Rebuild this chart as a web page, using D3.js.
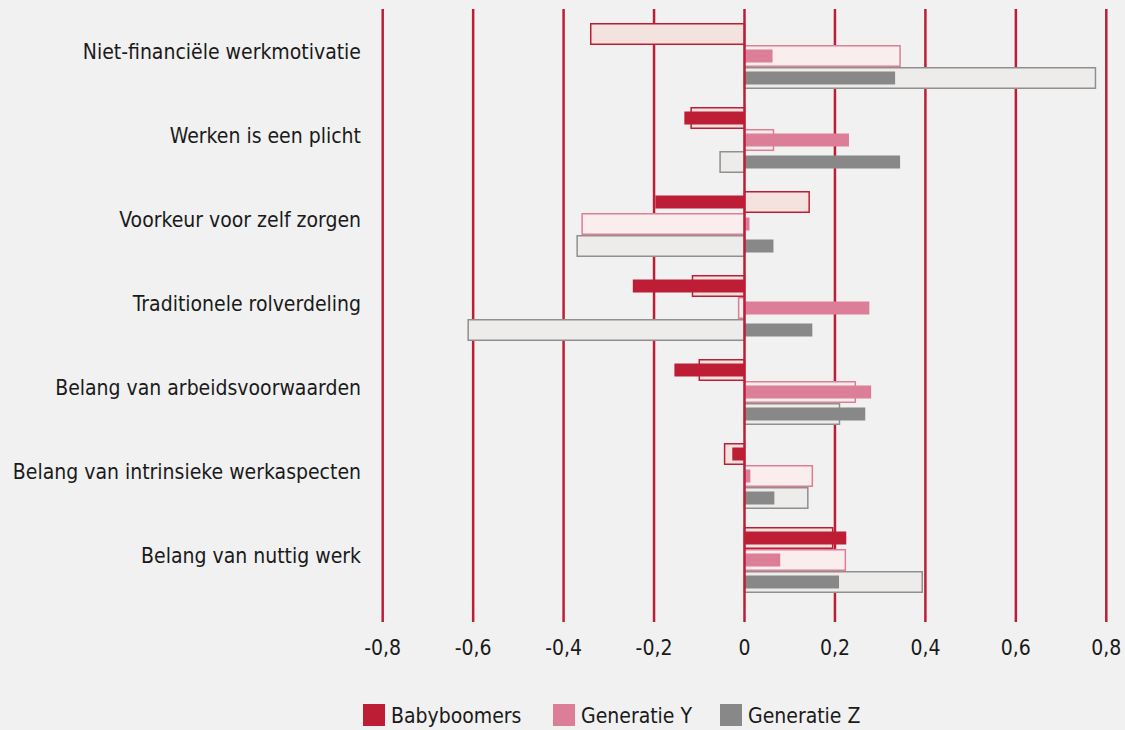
<!DOCTYPE html>
<html>
<head>
<meta charset="utf-8">
<script src="https://cdn.jsdelivr.net/npm/d3@7"></script>
<style>
  body { margin: 0; background: #f1f1f1; }
  svg { display: block; font-family: "DejaVu Sans Condensed", "DejaVu Sans", sans-serif; font-stretch: condensed; }
</style>
</head>
<body>
<div id="chart"></div>
<script>
// categories, top to bottom
var categories = [
    "Niet-financiële werkmotivatie",
    "Werken is een plicht",
    "Voorkeur voor zelf zorgen",
    "Traditionele rolverdeling",
    "Belang van arbeidsvoorwaarden",
    "Belang van intrinsieke werkaspecten",
    "Belang van nuttig werk"
];
var series = ["Babyboomers", "Generatie Y", "Generatie Z"];

// solid (narrow) bars
var babyboomers = [null, -0.133, -0.197, -0.247, -0.155, -0.027, 0.225];
var generatieY  = [0.062, 0.231, 0.011, 0.276, 0.280, 0.013, 0.079];
var generatieZ  = [0.333, 0.344, 0.064, 0.150, 0.267, 0.066, 0.209];

// outlined (wide) bars
var babyboomersOutline = [-0.340, -0.118, 0.143, -0.115, -0.100, -0.044, 0.195];
var generatieYOutline  = [0.344, 0.064, -0.359, -0.013, 0.245, 0.150, 0.223];
var generatieZOutline  = [0.776, -0.054, -0.370, -0.611, 0.210, 0.140, 0.393];

var ticks = [-0.8, -0.6, -0.4, -0.2, 0, 0.2, 0.4, 0.6, 0.8];

var solidColors   = ["#be1e35", "#dd7e98", "#888888"];
var outlineFills  = ["#f3e2de", "#f9eded", "#edecea"];
var outlineStroke = ["#be1e35", "#dd7e98", "#8f8f8f"];

var solidData = [babyboomers, generatieY, generatieZ];
var outlineData = [babyboomersOutline, generatieYOutline, generatieZOutline];

var width = 1125, height = 730;
var svg = d3.select("#chart").append("svg")
    .attr("width", width)
    .attr("height", height);

svg.append("rect").attr("width", width).attr("height", height).attr("fill", "#f1f1f1");

var x = d3.scaleLinear().domain([-0.8, 0.8]).range([382.7, 1106.3]);
var y = d3.scaleBand().domain(categories).range([14, 602]);
var slot = d3.scaleBand().domain([0, 1, 2]).range([0, 66]);
var groupTop = function (c) { return y(c) + (y.bandwidth() - 66) / 2; };

// comma decimals, plain hyphen for minus
var fmt = function (d) { return String(d).replace(".", ","); };

// grid lines
svg.append("g").selectAll("line")
    .data(ticks.filter(function (t) { return t !== 0; }))
    .enter().append("line")
    .attr("x1", function (d) { return x(d); })
    .attr("x2", function (d) { return x(d); })
    .attr("y1", 9).attr("y2", 622)
    .attr("stroke", "#be1e35")
    .attr("stroke-width", 2.5);

// tick labels
svg.append("g").selectAll("text")
    .data(ticks)
    .enter().append("text")
    .attr("x", function (d) { return x(d); })
    .attr("y", 655)
    .attr("text-anchor", "middle")
    .attr("font-size", 21)
    .attr("fill", "#1a1a1a")
    .text(fmt);

// category labels
svg.append("g").selectAll("text")
    .data(categories)
    .enter().append("text")
    .attr("x", 361)
    .attr("y", function (c) { return y(c) + y.bandwidth() / 2 + 3; })
    .attr("text-anchor", "end")
    .attr("font-size", 21)
    .attr("fill", "#1a1a1a")
    .text(function (c) { return c; });

// outlined bars
series.forEach(function (s, si) {
    svg.append("g").selectAll("rect")
        .data(categories.map(function (c, i) { return { c: c, v: outlineData[si][i] }; })
            .filter(function (d) { return d.v !== null; }))
        .enter().append("rect")
        .attr("x", function (d) { return Math.min(x(0), x(d.v)); })
        .attr("width", function (d) { return Math.abs(x(d.v) - x(0)); })
        .attr("y", function (d) { return groupTop(d.c) + slot(si) + 0.75; })
        .attr("height", slot.bandwidth() - 1.5)
        .attr("fill", outlineFills[si])
        .attr("stroke", outlineStroke[si])
        .attr("stroke-width", 1.5);
});

// solid bars
series.forEach(function (s, si) {
    svg.append("g").selectAll("rect")
        .data(categories.map(function (c, i) { return { c: c, v: solidData[si][i] }; })
            .filter(function (d) { return d.v !== null; }))
        .enter().append("rect")
        .attr("x", function (d) { return Math.min(x(0), x(d.v)); })
        .attr("width", function (d) { return Math.abs(x(d.v) - x(0)); })
        .attr("y", function (d) { return groupTop(d.c) + slot(si) + (slot.bandwidth() - 13) / 2; })
        .attr("height", 13)
        .attr("fill", solidColors[si]);
});

// zero line on top
svg.append("line")
    .attr("x1", x(0)).attr("x2", x(0))
    .attr("y1", 9).attr("y2", 622)
    .attr("stroke", "#be1e35")
    .attr("stroke-width", 2.5);

// legend
var legendX = [363, 553, 720];
var legend = svg.append("g").selectAll("g")
    .data(series)
    .enter().append("g")
    .attr("transform", function (d, i) { return "translate(" + legendX[i] + ",704)"; });
legend.append("rect")
    .attr("width", 22).attr("height", 22)
    .attr("fill", function (d, i) { return solidColors[i]; });
legend.append("text")
    .attr("x", 28).attr("y", 19)
    .attr("font-size", 21)
    .attr("fill", "#1a1a1a")
    .text(function (d) { return d; });
</script>
</body>
</html>
